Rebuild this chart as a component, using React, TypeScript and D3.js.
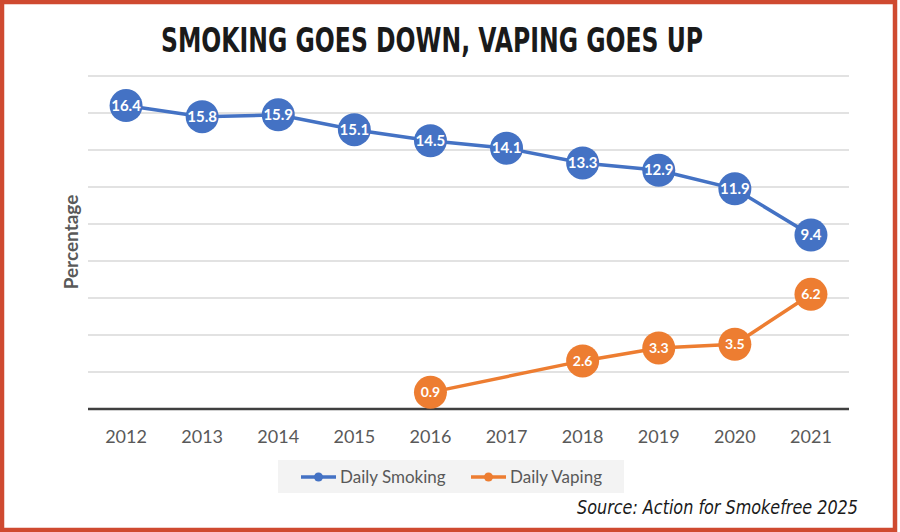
import React from "react";
import * as d3 from "d3";

const years = ["2012", "2013", "2014", "2015", "2016", "2017", "2018", "2019", "2020", "2021"];
const smoking: (number | null)[] = [16.4, 15.8, 15.9, 15.1, 14.5, 14.1, 13.3, 12.9, 11.9, 9.4];
const vaping: (number | null)[] = [null, null, null, null, 0.9, null, 2.6, 3.3, 3.5, 6.2];
const yTicks = [0, 2, 4, 6, 8, 10, 12, 14, 16, 18];

const W = 900;
const H = 532;
const BLUE = "#4472c4";
const ORANGE = "#ed7d31";
const FONT = "Lato, 'Open Sans', sans-serif";

export default function App() {
  const x = d3.scalePoint<string>().domain(years).range([88, 849]).padding(0.5);
  const y = d3.scaleLinear().domain([0, 18]).range([409, 76]);

  const line = d3
    .line<[string, number | null]>()
    .defined((d) => d[1] !== null)
    .x((d) => x(d[0]) as number)
    .y((d) => y(d[1] as number));

  const smokePts = years.map((yr, i) => [yr, smoking[i]] as [string, number | null]);
  const vapePts = years
    .map((yr, i) => [yr, vaping[i]] as [string, number | null])
    .filter((d) => d[1] !== null);

  const series = [
    { name: "Daily Smoking", pts: smokePts, color: BLUE },
    { name: "Daily Vaping", pts: vapePts, color: ORANGE },
  ];

  return (
    <div style={{ position: "absolute", left: 0, top: 0 }}>
      <svg width={W} height={H} style={{ display: "block", background: "#fff" }}>
        <rect x={2} y={2} width={893} height={528} fill="#fff" stroke="#cf4a30" strokeWidth={4.5} />
        <text
          x={432}
          y={52}
          textAnchor="middle"
          fontFamily="'Liberation Sans Narrow', 'DejaVu Sans Condensed', sans-serif"
          fontWeight="bold"
          fontSize={33}
          fill="#1a1a1a"
          textLength={542}
          lengthAdjust="spacingAndGlyphs"
        >
          SMOKING GOES DOWN, VAPING GOES UP
        </text>

        {yTicks.slice(1).map((t) => (
          <line key={t} x1={88} x2={849} y1={y(t)} y2={y(t)} stroke="#d9d9d9" strokeWidth={1.5} />
        ))}
        <line x1={88} x2={849} y1={y(0)} y2={y(0)} stroke="#404040" strokeWidth={2.5} />

        <text
          transform={`translate(78,242) rotate(-90)`}
          textAnchor="middle"
          fontFamily={FONT}
          fontWeight="bold"
          fontSize={19}
          fill="#595959"
        >
          Percentage
        </text>

        {years.map((yr) => (
          <text key={yr} x={x(yr)} y={443} textAnchor="middle" fontFamily={FONT} fontSize={18} fill="#595959">
            {yr}
          </text>
        ))}

        {series.map((s) => (
          <g key={s.name}>
            <path d={line(s.pts) || ""} fill="none" stroke={s.color} strokeWidth={3.5} />
            {s.pts
              .filter((d) => d[1] !== null)
              .map((d) => (
                <g key={d[0]}>
                  <circle cx={x(d[0])} cy={y(d[1] as number)} r={16.5} fill={s.color} />
                  <text
                    x={x(d[0])}
                    y={y(d[1] as number) + 5}
                    textAnchor="middle"
                    fontFamily={FONT}
                    fontWeight="bold"
                    fontSize={s.color === BLUE ? 15 : 14}
                    fill="#fff"
                  >
                    {(d[1] as number).toFixed(1)}
                  </text>
                </g>
              ))}
          </g>
        ))}

        <rect x={278} y={460} width={346} height={33} fill="#f3f3f3" />
        {series.map((s, i) => {
          const lx = i === 0 ? 301 : 471;
          return (
            <g key={s.name}>
              <line x1={lx} x2={lx + 35} y1={477} y2={477} stroke={s.color} strokeWidth={3.5} />
              <circle cx={lx + 17.5} cy={477} r={4.5} fill={s.color} />
              <text x={lx + 39} y={483} fontFamily={FONT} fontSize={17} fill="#595959">
                {s.name}
              </text>
            </g>
          );
        })}

        <text
          x={858}
          y={514}
          textAnchor="end"
          fontFamily="'Liberation Sans Narrow', 'DejaVu Sans Condensed', sans-serif"
          fontStyle="italic"
          fontSize={19}
          fill="#1a1a1a"
          textLength={281}
          lengthAdjust="spacingAndGlyphs"
        >
          Source:  Action for Smokefree 2025
        </text>
      </svg>
    </div>
  );
}
